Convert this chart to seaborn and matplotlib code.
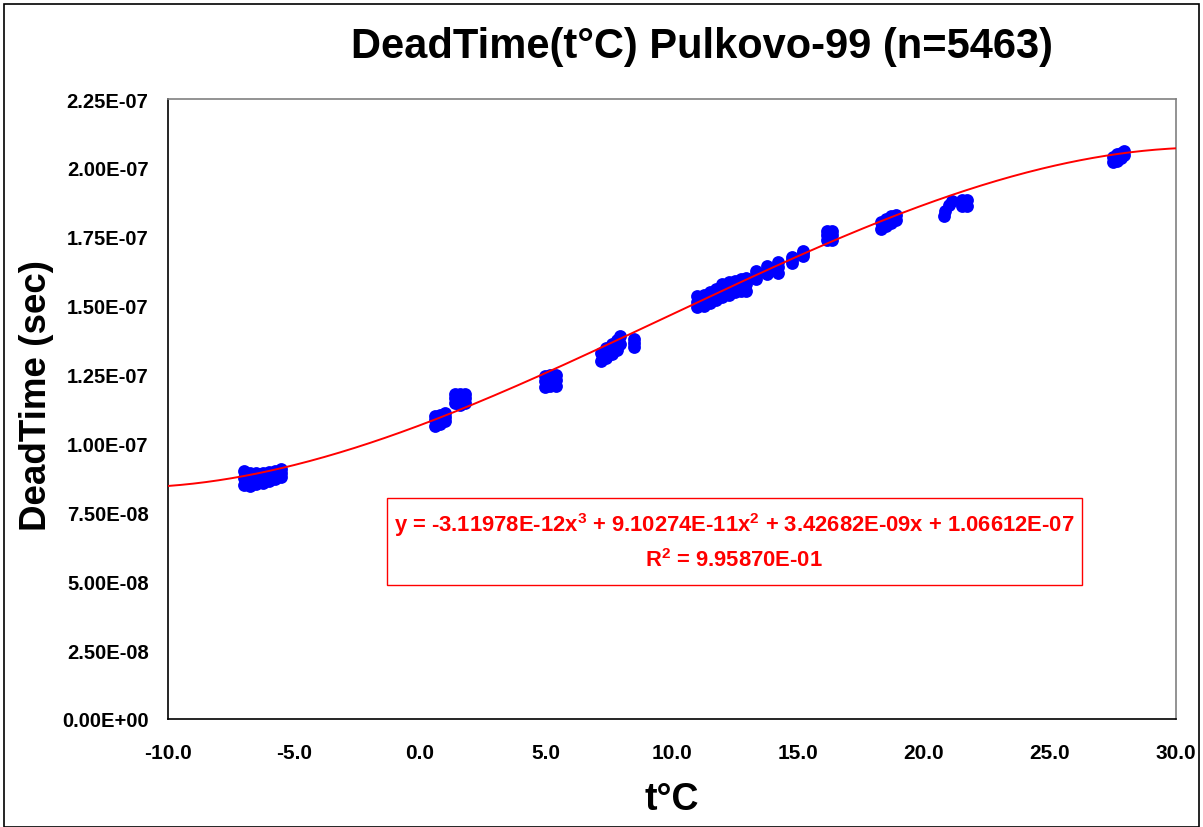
import numpy as np
import matplotlib
matplotlib.use("Agg")
import matplotlib.pyplot as plt
from matplotlib.patches import Rectangle
from matplotlib.ticker import MultipleLocator, FuncFormatter
import seaborn as sns

# measured points (temperature, dead time in units of 1e-8 s), read cluster by cluster
temps = [
    # around -6 C
    -7.0, -6.75, -6.5, -6.25, -6.0, -5.75, -5.5,
    -7.0, -6.75, -6.5, -6.25, -6.0, -5.75, -5.5,
    -7.0, -6.75, -6.5, -6.25, -6.0, -5.75, -5.5,
    # around 1 C
    0.6, 0.6, 0.6, 0.8, 0.8, 0.8, 1.0, 1.0, 1.0,
    1.4, 1.4, 1.4, 1.6, 1.6, 1.6, 1.8, 1.8, 1.8,
    # around 5 C
    4.95, 4.95, 4.95, 5.15, 5.15, 5.15, 5.4, 5.4, 5.4,
    # around 7.5 C
    7.2, 7.4, 7.6, 7.8, 7.95,
    7.2, 7.4, 7.6, 7.8, 7.95,
    8.5, 8.5, 8.5,
    # around 12 C
    11.0, 11.25, 11.5, 11.75, 12.0, 12.25, 12.5, 12.75, 12.95,
    11.0, 11.25, 11.5, 11.75, 12.0, 12.25, 12.5, 12.75, 12.95,
    11.0, 11.25, 11.5, 11.75, 12.0, 12.25, 12.5, 12.75, 12.95,
    13.35, 13.35, 13.35, 13.75, 13.75, 13.75, 14.2, 14.2, 14.2,
    14.75, 14.75, 14.75, 15.2, 15.2, 15.2,
    16.15, 16.15, 16.15, 16.35, 16.35, 16.35,
    # around 18-22 C
    18.3, 18.5, 18.7, 18.9,
    18.3, 18.5, 18.7, 18.9,
    20.8, 20.85, 21.0, 21.1,
    21.5, 21.5, 21.7, 21.7,
    # around 28 C
    27.5, 27.65, 27.8, 27.95,
    27.5, 27.65, 27.8, 27.95,
]
dead_time_e8 = [
    8.48, 8.47, 8.52, 8.57, 8.64, 8.72, 8.80,
    8.74, 8.72, 8.74, 8.78, 8.82, 8.87, 8.93,
    9.00, 8.93, 8.91, 8.93, 8.97, 9.01, 9.06,
    10.65, 10.85, 11.00, 10.70, 10.90, 11.05, 10.80, 10.95, 11.10,
    11.45, 11.65, 11.80, 11.40, 11.60, 11.80, 11.45, 11.65, 11.80,
    12.05, 12.25, 12.45, 12.10, 12.30, 12.50, 12.10, 12.30, 12.50,
    13.00, 13.10, 13.25, 13.40, 13.60,
    13.30, 13.45, 13.60, 13.75, 13.90,
    13.50, 13.65, 13.80,
    14.95, 15.00, 15.10, 15.20, 15.30, 15.40, 15.50, 15.55, 15.55,
    15.15, 15.20, 15.30, 15.40, 15.55, 15.60, 15.70, 15.75, 15.80,
    15.35, 15.40, 15.50, 15.60, 15.80, 15.85, 15.90, 15.95, 16.00,
    15.95, 16.10, 16.25, 16.15, 16.30, 16.45, 16.20, 16.40, 16.60,
    16.55, 16.65, 16.75, 16.80, 16.92, 17.00,
    17.40, 17.55, 17.70, 17.40, 17.55, 17.70,
    17.80, 17.90, 18.00, 18.10,
    18.05, 18.15, 18.25, 18.30,
    18.25, 18.45, 18.65, 18.80,
    18.60, 18.85, 18.60, 18.85,
    20.20, 20.25, 20.35, 20.45,
    20.40, 20.50, 20.55, 20.60,
]

# cubic trendline coefficients as printed on the chart
coefs = [-3.11978e-12, 9.10274e-11, 3.42682e-09, 1.06612e-07]
eq_line1 = (r"y = -3.11978E-12x$^{\mathbf{3}}$ + 9.10274E-11x$^{\mathbf{2}}$"
            r" + 3.42682E-09x + 1.06612E-07")
eq_line2 = r"R$^{\mathbf{2}}$ = 9.95870E-01"

title = "DeadTime(t°C) Pulkovo-99 (n=5463)"

sns.set_style("white")
plt.rcParams["font.family"] = ["Liberation Sans", "DejaVu Sans"]
plt.rcParams["mathtext.fontset"] = "custom"
plt.rcParams["mathtext.rm"] = "Liberation Sans:bold"
plt.rcParams["mathtext.bf"] = "Liberation Sans:bold"
for key in ["text.color", "axes.labelcolor", "xtick.color", "ytick.color"]:
    plt.rcParams[key] = "black"

fig = plt.figure(figsize=(12.03, 8.28), dpi=100)
ax = fig.add_axes([168 / 1203, 1 - 720 / 828, (1176 - 168) / 1203, (720 - 100) / 828])

x = np.array(temps)
y = np.array(dead_time_e8) * 1e-8
sns.scatterplot(x=x, y=y, color="#0000FF", s=85, linewidth=0, ax=ax, zorder=2)

grid = np.linspace(-10, 30, 400)
sns.lineplot(x=grid, y=np.polyval(coefs, grid), color="#FF0000", lw=1.4, ax=ax, zorder=3)

ax.set_xlim(-10, 30)
ax.set_ylim(0, 2.25e-7)
ax.xaxis.set_major_locator(MultipleLocator(5))
ax.xaxis.set_minor_locator(MultipleLocator(1))
ax.yaxis.set_major_locator(MultipleLocator(2.5e-8))
ax.yaxis.set_minor_locator(MultipleLocator(5e-9))
ax.xaxis.set_major_formatter(FuncFormatter(lambda v, p: f"{v:.1f}"))
ax.yaxis.set_major_formatter(FuncFormatter(lambda v, p: f"{v:.2E}"))
ax.tick_params(which="both", direction="out", color="black", width=1)
ax.tick_params(which="major", length=5)
ax.tick_params(which="minor", length=4)
ax.tick_params(axis="x", which="major", labelsize=15, pad=12)
ax.tick_params(axis="y", which="major", labelsize=14.5, pad=9)
for lab in ax.get_xticklabels() + ax.get_yticklabels():
    lab.set_fontweight("bold")

for side in ["left", "bottom"]:
    ax.spines[side].set_color("black")
    ax.spines[side].set_linewidth(1.2)
for side in ["top", "right"]:
    ax.spines[side].set_color("#808080")
    ax.spines[side].set_linewidth(1.2)

ax.set_xlabel("t°C", fontsize=27, fontweight="bold", labelpad=14)
ax.set_ylabel("DeadTime (sec)", fontsize=26.5, fontweight="bold", labelpad=6)
ax.yaxis.label.set_y(0.524)
fig.text(702 / 1203, 1 - 47 / 828, title, fontsize=30, fontweight="bold",
         ha="center", va="center")

# trendline equation box
fig.patches.append(Rectangle((387 / 1203, 1 - 586 / 828), (1082 - 387) / 1203, 87 / 828,
                             transform=fig.transFigure, fill=False,
                             edgecolor="#FF0000", lw=1))
fig.text(734 / 1203, 1 - 525 / 828, eq_line1, color="#FF0000", fontsize=15.8,
         fontweight="bold", ha="center", va="center")
fig.text(734 / 1203, 1 - 561 / 828, eq_line2, color="#FF0000", fontsize=15.8,
         fontweight="bold", ha="center", va="center")

# outer chart border
fig.patches.append(Rectangle((4 / 1203, 0), 1195 / 1203, 1 - 5 / 828,
                             transform=fig.transFigure, fill=False,
                             edgecolor="black", lw=1.2))

fig.savefig("out.png", dpi=100)
